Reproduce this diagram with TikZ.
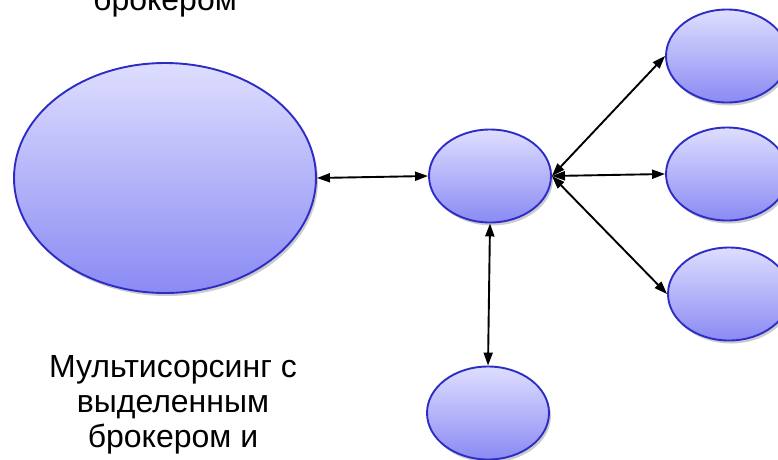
\documentclass[tikz,border=0pt]{standalone}
\usepackage{fontspec}
\setmainfont{Liberation Sans}
\usetikzlibrary{shapes.geometric,shadows,arrows.meta}

\definecolor{ovtop}{RGB}{222,222,255}
\definecolor{ovbot}{RGB}{138,138,244}
\definecolor{ovline}{RGB}{45,45,198}

\tikzset{
  party/.style={ellipse, draw=ovline, line width=1.9pt, top color=ovtop, bottom color=ovbot,
    drop shadow={shadow xshift=2pt, shadow yshift=-3pt, opacity=0.2, fill=black},
    minimum width=122pt, minimum height=93pt, inner sep=0pt},
  link/.style={{Triangle[length=13pt,width=9pt]}-{Triangle[length=13pt,width=9pt]}, line width=1.9pt, black},
  caption/.style={font=\fontsize{32}{35}\selectfont, inner sep=0pt, align=center}
}

\begin{document}
\begin{tikzpicture}[x=1pt, y=-1pt]
\useasboundingbox (0,0) rectangle (778,459);
\clip (0,0) rectangle (778,459);

% participants
\node[party, minimum width=302pt, minimum height=230pt] (broker) at (165,178) {};
\node[party] (hub)   at (490,176) {};
\node[party] (srcA)  at (727,56)  {};
\node[party] (srcB)  at (727,174) {};
\node[party] (srcC)  at (729,294) {};
\node[party] (srcD)  at (488,413) {};

% links
\draw[link] (broker.east) -- (hub.west);
\draw[link] (hub.east) -- (srcA.west);
\draw[link] (hub.east) -- (srcB.west);
\draw[link] (hub.east) -- (srcC.west);
\draw[link] (hub.south) -- (srcD.north);

% captions
\node[caption, anchor=base] (topcap) at (165,10) {брокером};
\node[caption, anchor=north] (botcap) at (173,355) {Мультисорсинг с\\выделенным\\брокером и};
\end{tikzpicture}
\end{document}
